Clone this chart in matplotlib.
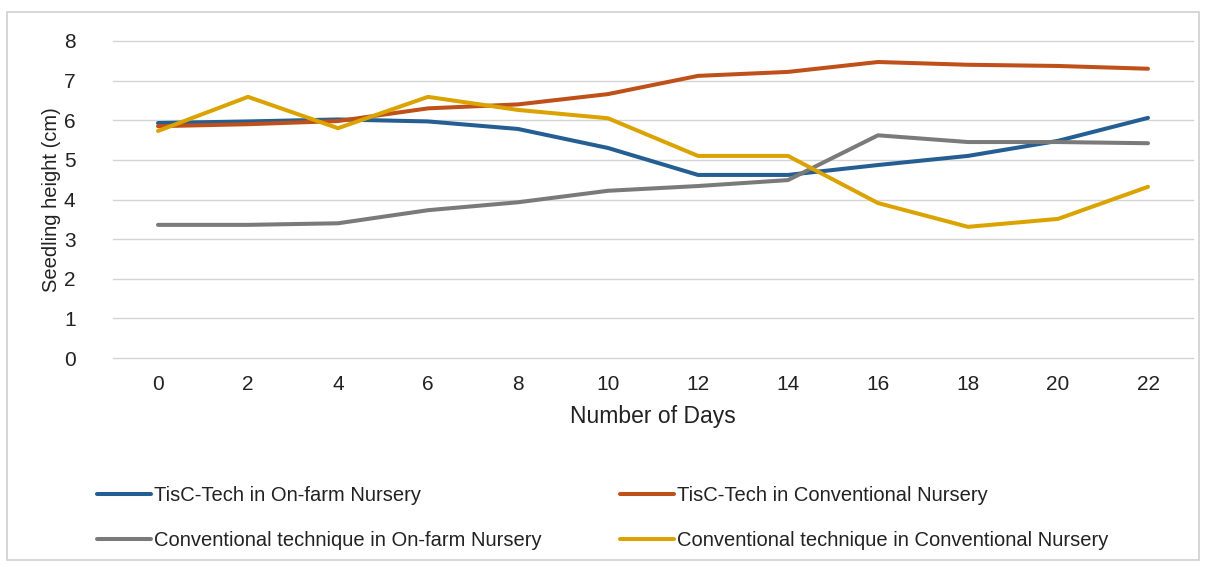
import matplotlib.pyplot as plt
from matplotlib.patches import Rectangle

days = [0, 2, 4, 6, 8, 10, 12, 14, 16, 18, 20, 22]
tisc_onfarm = [5.93, 5.97, 6.02, 5.97, 5.78, 5.30, 4.62, 4.62, 4.87, 5.10, 5.48, 6.06]
tisc_conv = [5.85, 5.90, 5.98, 6.30, 6.40, 6.66, 7.12, 7.22, 7.47, 7.40, 7.37, 7.30]
conv_onfarm = [3.36, 3.36, 3.40, 3.73, 3.93, 4.22, 4.34, 4.49, 5.62, 5.45, 5.45, 5.42]
conv_conv = [5.73, 6.59, 5.80, 6.59, 6.26, 6.05, 5.10, 5.10, 3.91, 3.31, 3.51, 4.32]

labels = ['TisC-Tech in On-farm Nursery', 'TisC-Tech in Conventional Nursery',
          'Conventional technique in On-farm Nursery', 'Conventional technique in Conventional Nursery']
colors = ['#245e93', '#c0501a', '#7a7a7a', '#dba300']

plt.rcParams['font.family'] = ['Liberation Sans', 'DejaVu Sans']
txt = '#222222'

fig = plt.figure(figsize=(12.06, 5.67), dpi=100)
fig.patches.append(Rectangle((7/1206, 7/567), 1192/1206, 548/567, transform=fig.transFigure,
                             fill=False, edgecolor='#d0d0d0', linewidth=1.2))
ax = fig.add_axes([113/1206, 1 - 358/567, 1080/1206, 317/567])

series = [tisc_onfarm, tisc_conv, conv_onfarm, conv_conv]
lines = []
for s, lab, c in zip(series, labels, colors):
    ln, = ax.plot(days, s, color=c, linewidth=2.9, label=lab, solid_capstyle='round')
    lines.append(ln)

ax.set_xlim(-1, 23)
ax.set_ylim(0, 8)
ax.set_xticks(days)
ax.set_yticks(range(0, 9))
ax.grid(axis='y', color='#d4d4d4', linewidth=1)
for g in ax.get_ygridlines():
    g.set_clip_on(False)
ax.set_axisbelow(True)
for sp in ax.spines.values():
    sp.set_visible(False)
ax.tick_params(length=0, labelsize=15, colors=txt)
ax.tick_params(axis='x', pad=12)
ax.tick_params(axis='y', pad=27)
ax.set_xlabel('Number of Days', fontsize=16.5, color=txt, labelpad=8)
ax.set_ylabel('Seedling height (cm)', fontsize=14.5, color=txt, labelpad=2)

# two legend columns placed side by side, rows read left to right
common = dict(loc='center left', frameon=False, fontsize=14.5, handlelength=2.7,
              handletextpad=0.15, labelspacing=1.3, borderpad=0, borderaxespad=0, labelcolor=txt)
fig.legend([lines[0], lines[2]], [labels[0], labels[2]],
           bbox_to_anchor=(97/1206, 1 - 518/567), **common)
fig.legend([lines[1], lines[3]], [labels[1], labels[3]],
           bbox_to_anchor=(620/1206, 1 - 518/567), **common)

fig.savefig('out.png', dpi=100)
